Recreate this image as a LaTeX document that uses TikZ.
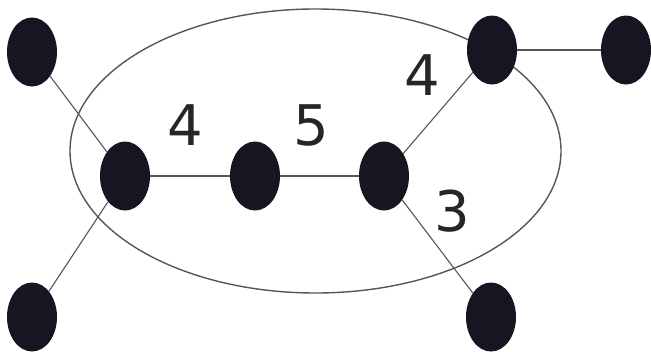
\documentclass[tikz,border=0pt]{standalone}
\usepackage{fontspec}
\setmainfont{DejaVu Sans}
\usepackage{xcolor}
\usepackage{tikz}
\usetikzlibrary{shapes.geometric}

\definecolor{vtxfill}{RGB}{22,22,34}
\definecolor{edgegray}{RGB}{85,85,95}

\tikzset{
  vtx/.style={ellipse, fill=vtxfill, inner sep=0pt, minimum width=50pt, minimum height=69pt},
  edg/.style={draw=edgegray, line width=1.1pt},
  wlabel/.style={font=\fontsize{56}{60}\selectfont, text=black!85}
}

\begin{document}
\begin{tikzpicture}[x=1pt, y=-1pt]
\useasboundingbox (0,0) rectangle (651,351);
% the big ring round the inner part
\draw[edgegray, line width=1.4pt] (315.5,151) ellipse [x radius=245.5pt, y radius=142pt];
% vertices
\node[vtx] (tl) at (32,52) {};
\node[vtx] (lm) at (125,176) {};
\node[vtx] (mid) at (255,176) {};
\node[vtx] (rm) at (384,176) {};
\node[vtx] (tr) at (492,50) {};
\node[vtx] (fr) at (626,50) {};
\node[vtx] (bl) at (32,317) {};
\node[vtx] (br) at (491,317) {};
% edges
\draw[edg] (tl) -- (lm);
\draw[edg] (lm) -- (bl);
\draw[edg] (lm) -- (mid);
\draw[edg] (mid) -- (rm);
\draw[edg] (rm) -- (tr);
\draw[edg] (rm) -- (br);
\draw[edg] (tr) -- (fr);
% weights
\node[wlabel] (w1) at (185,125) {4};
\node[wlabel] (w2) at (311,125) {5};
\node[wlabel] (w3) at (422,75) {4};
\node[wlabel] (w4) at (452,211) {3};
\end{tikzpicture}
\end{document}
